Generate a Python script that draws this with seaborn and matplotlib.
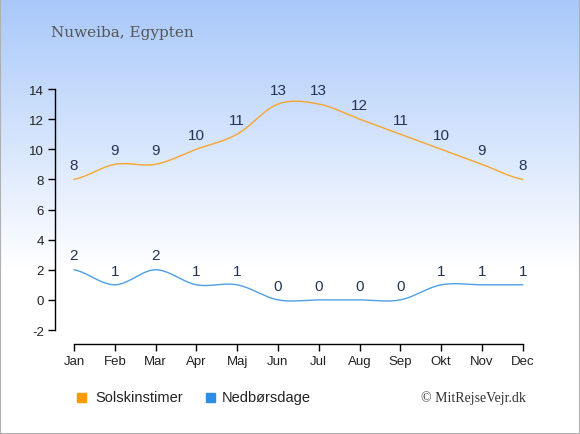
import numpy as np
import pandas as pd
import seaborn as sns
import matplotlib
import matplotlib.pyplot as plt
from matplotlib.patches import Rectangle

matplotlib.use('Agg')

# Daten
months = ['Jan', 'Feb', 'Mar', 'Apr', 'Maj', 'Jun', 'Jul', 'Aug', 'Sep', 'Okt', 'Nov', 'Dec']
sun_hours = [8, 9, 9, 10, 11, 13, 13, 12, 11, 10, 9, 8]
rain_days = [2, 1, 2, 1, 1, 0, 0, 0, 0, 1, 1, 1]

sun_color = '#f7a52e'
rain_color = '#4d9fe8'
label_color = '#233355'


def smooth(values, steps=20):
    # Catmull-Rom Kurve durch die Datenpunkte
    y = np.asarray(values, dtype=float)
    n = len(y)
    xs, ys = [], []
    for i in range(n - 1):
        m0 = (y[i + 1] - y[i - 1]) / 2 if i > 0 else (y[i + 1] - y[i]) / 2
        m1 = (y[i + 2] - y[i]) / 2 if i + 2 < n else (y[i + 1] - y[i]) / 2
        t = np.linspace(0, 1, steps, endpoint=False)
        h00 = 2 * t**3 - 3 * t**2 + 1
        h10 = t**3 - 2 * t**2 + t
        h01 = -2 * t**3 + 3 * t**2
        h11 = t**3 - t**2
        xs.extend(i + t)
        ys.extend(h00 * y[i] + h10 * m0 + h01 * y[i + 1] + h11 * m1)
    xs.append(n - 1)
    ys.append(y[-1])
    return pd.DataFrame({'x': xs, 'y': ys})


sns.set_style('white')
plt.rcParams['font.family'] = ['Liberation Sans', 'DejaVu Sans']
plt.rcParams['axes.unicode_minus'] = False

fig = plt.figure(figsize=(5.8, 4.35), dpi=100)

# Hintergrund mit Verlauf
bg = fig.add_axes([0, 0, 1, 1], zorder=-1)
grad = np.linspace(0, 1, 435)
top = np.array([168, 200, 250]) / 255
frac = np.clip(grad / 0.62, 0, 1)[:, None]
img = top * (1 - frac) + np.ones(3) * frac
bg.imshow(img[:, None, :], aspect='auto', extent=[0, 1, 0, 1], origin='upper')
bg.add_patch(Rectangle((0, 0), 1, 1, transform=bg.transAxes, fill=False,
                       edgecolor='#b0b0b0', linewidth=1.5))
bg.axis('off')

# Diagramm
ax = fig.add_axes([55 / 580, 1 - 331 / 435, 480 / 580, 241 / 435])
ax.patch.set_alpha(0)

sns.lineplot(data=smooth(sun_hours), x='x', y='y', ax=ax, color=sun_color, linewidth=1)
sns.lineplot(data=smooth(rain_days), x='x', y='y', ax=ax, color=rain_color, linewidth=1)

for i, v in enumerate(sun_hours):
    ax.text(i, v + 0.95, str(v), ha='center', va='center', fontsize=11, color=label_color)
for i, v in enumerate(rain_days):
    ax.text(i, v + 0.95, str(v), ha='center', va='center', fontsize=11, color=label_color)

ax.set_xlim(-0.465, 11.3)
ax.set_ylim(-2, 14)
ax.set_xticks(range(12))
ax.set_xticklabels(months)
ax.set_yticks(range(-2, 15, 2))
ax.set_xlabel('')
ax.set_ylabel('')

for side in ['top', 'right']:
    ax.spines[side].set_visible(False)
ax.spines['bottom'].set_position(('outward', 10))
ax.spines['bottom'].set_bounds(0, 11)
ax.spines['left'].set_bounds(-2, 14)
for side in ['bottom', 'left']:
    ax.spines[side].set_color('black')
    ax.spines[side].set_linewidth(1)
ax.tick_params(axis='both', which='both', direction='out', length=5, width=1,
               color='black', labelsize=9.5, labelcolor='#222222', pad=3, left=True, bottom=True)

# Titel
fig.text(51 / 580, 1 - 33 / 435, 'Nuweiba, Egypten', fontsize=11, color='#555555',
         family='DejaVu Serif', ha='left', va='center')

# Legende
fig.patches.append(Rectangle((77 / 580, 1 - 403 / 435), 9 / 580, 9 / 435,
                             transform=fig.transFigure, color='#ff9900', figure=fig))
fig.text(95 / 580, 1 - 398 / 435, 'Solskinstimer', fontsize=10.5, color='#222222',
         ha='left', va='center')
fig.patches.append(Rectangle((206 / 580, 1 - 403 / 435), 9 / 580, 9 / 435,
                             transform=fig.transFigure, color='#2e8ee6', figure=fig))
fig.text(222 / 580, 1 - 398 / 435, 'Nedbørsdage', fontsize=10.5, color='#222222',
         ha='left', va='center')
fig.text(526 / 580, 1 - 398 / 435, '© MitRejseVejr.dk', fontsize=10, color='#333333',
         family='Liberation Serif', ha='right', va='center')

plt.savefig('out.png', dpi=100)
